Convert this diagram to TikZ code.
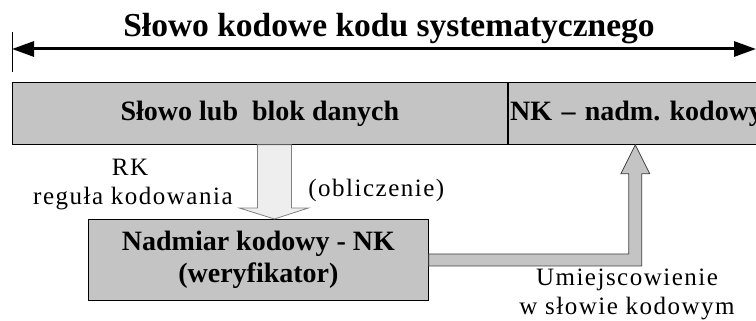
\documentclass[tikz,border=0pt]{standalone}
\usepackage{fontspec}
\setmainfont{Liberation Serif}
\usetikzlibrary{arrows.meta, positioning, calc}
\definecolor{boxgray}{RGB}{196,196,196}
\definecolor{lightgray}{RGB}{238,238,238}
\frenchspacing
\tikzset{
  block/.style = {shape=rectangle, draw, fill=boxgray, inner sep=0pt,
                  font=\fontsize{28}{32}\selectfont\bfseries},
  note/.style  = {inner sep=0pt,
                  font=\fontsize{25}{29}\selectfont\addfontfeature{LetterSpace=6}},
  title/.style = {inner sep=0pt, font=\fontsize{33.5}{36}\selectfont\bfseries},
  span/.style  = {{Triangle[length=22pt,width=15pt]}-{Triangle[length=22pt,width=15pt]},
                  line width=3pt},
  downarrow/.style = {fill=lightgray, draw=black!50},
  bentarrow/.style = {fill=boxgray, draw=black!75}
}
\begin{document}
\begin{tikzpicture}[x=1pt, y=-1pt, line width=0.8pt]
  \clip (0,0) rectangle (756,321);
  \useasboundingbox (0,0) rectangle (756,321);

  % code word
  \node[title] (word) at (389,29) {Słowo kodowe kodu systematycznego};
  \coordinate (wl) at (12,49);
  \coordinate (wr) at (756,49);
  \draw[span] (wl) -- (wr);
  \draw[line width=0.6pt] ($(wl)+(0.7,-17)$) -- ($(wl)+(0.7,23)$);

  \node[block, anchor=north west, minimum width=495pt, minimum height=62pt]
       (data) at (12,82) {Słowo lub\ \ blok danych};
  \node[block, anchor=north west, minimum height=62pt, text width=296pt,
        inner xsep=2pt, align=left]
       (nk) at (data.north east) {NK -- nadm. kodowy};

  \node[block, anchor=north west, minimum width=340pt, minimum height=81pt,
        align=center]
       (verif) at (88,219) {Nadmiar kodowy - NK\\(weryfikator)};

  % computing the redundancy
  \coordinate (dtop) at ($(data.south)+(14.5,0)$);
  \coordinate (dtip) at (dtop |- verif.north);
  \draw[downarrow] ($(dtop)+(-17,0)$) -- ($(dtip)+(-17,-11)$)
    -- ($(dtip)+(-35,-11)$) -- (dtip) -- ($(dtip)+(34,-11)$)
    -- ($(dtip)+(17,-11)$) -- ($(dtop)+(17,0)$) -- cycle;

  % placing it in the code word
  \coordinate (ustart) at (verif.east);
  \coordinate (utip) at ($(nk.south west)+(127.5,0)$);
  \draw[bentarrow] ($(ustart)+(0,-6)$) -- ($(utip |- ustart)+(-6.5,-6)$)
    -- ($(utip)+(-6.5,29)$) -- ($(utip)+(-14.5,29)$) -- (utip)
    -- ($(utip)+(14.5,29)$) -- ($(utip)+(6.5,29)$)
    -- ($(utip |- ustart)+(6.5,6)$) -- ($(ustart)+(0,6)$) -- cycle;

  \node[note] (rk) at (130,167) {RK};
  \node[note, anchor=east] (rule) at (233,199) {reguła kodowania};
  \node[note, anchor=west] (calc) at (308,190) {(obliczenie)};
  \node[note, align=center] (place) at (627,294) {Umiejscowienie\\w słowie kodowym};
\end{tikzpicture}
\end{document}
